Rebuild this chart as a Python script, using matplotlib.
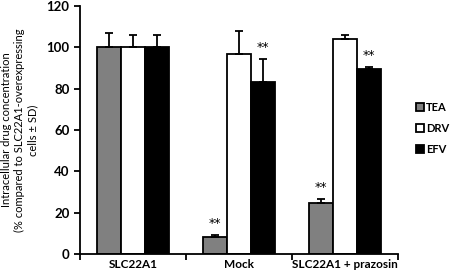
import numpy as np
import matplotlib
matplotlib.use("Agg")
import matplotlib.pyplot as plt
from matplotlib.patches import Patch

plt.rcParams["font.family"] = ["Lato", "DejaVu Sans"]

groups = ["SLC22A1", "Mock", "SLC22A1 + prazosin"]
series = ["TEA", "DRV", "EFV"]
values = {
    "TEA": [100, 8.2, 24.8],
    "DRV": [100, 97, 104.3],
    "EFV": [100, 83.2, 89.4],
}
errors = {
    "TEA": [7, 0.8, 1.8],
    "DRV": [6, 11, 1.5],
    "EFV": [6, 11, 1.2],
}
stars = {
    "TEA": ["", "**", "**"],
    "DRV": ["", "", ""],
    "EFV": ["", "**", "**"],
}
colors = {"TEA": "#808080", "DRV": "white", "EFV": "black"}

fig = plt.figure(figsize=(4.54, 2.79), dpi=100)
ax = fig.add_axes([0.176, 0.09, 0.701, 0.888])

x = np.arange(len(groups))
w = 0.226
for i, s in enumerate(series):
    xs = x + (i - 1) * w
    ax.bar(xs, values[s], width=w, color=colors[s], edgecolor="black", lw=1.3, zorder=2)
    ax.errorbar(xs, values[s], yerr=[np.zeros(3), errors[s]], fmt="none",
                ecolor="black", elinewidth=1.3, capsize=3, capthick=1.3, zorder=3)
    for xi, v, e, st in zip(xs, values[s], errors[s], stars[s]):
        if st:
            ax.text(xi, v + e + 2.5, st, ha="center", va="bottom", fontsize=9,
                    family="DejaVu Sans")

ax.set_xlim(-0.5, 2.5)
ax.set_ylim(0, 120)
ax.set_yticks(range(0, 121, 20))
ax.set_xticks([-0.5, 0.5, 1.5, 2.5])
ax.set_xticklabels([])
ax.tick_params(axis="x", length=4, width=1.3, direction="out")
ax.tick_params(axis="y", length=4, width=1.3, direction="out", labelsize=9.5)
for lbl in ax.get_yticklabels():
    lbl.set_fontweight("bold")
for i, g in enumerate(groups):
    ax.text(i, -2.5, g, ha="center", va="top", fontsize=8.5, fontweight="bold",
            transform=ax.transData, clip_on=False)
for sp in ["top", "right"]:
    ax.spines[sp].set_visible(False)
for sp in ["left", "bottom"]:
    ax.spines[sp].set_linewidth(1.3)

ax.set_ylabel("Intracellular drug concentration\n(% compared to SLC22A1-overexpressing\ncells ± SD)",
              fontsize=8, labelpad=6)

handles = [Patch(facecolor=colors[s], edgecolor="black", lw=1.3, label=s) for s in series]
leg = fig.legend(handles=handles, loc="center left", bbox_to_anchor=(0.895, 0.54),
                 frameon=False, handlelength=0.7, handleheight=0.7, handletextpad=0.2,
                 labelspacing=0.9, prop={"weight": "bold", "size": 8})

fig.savefig("out.png", dpi=100)
